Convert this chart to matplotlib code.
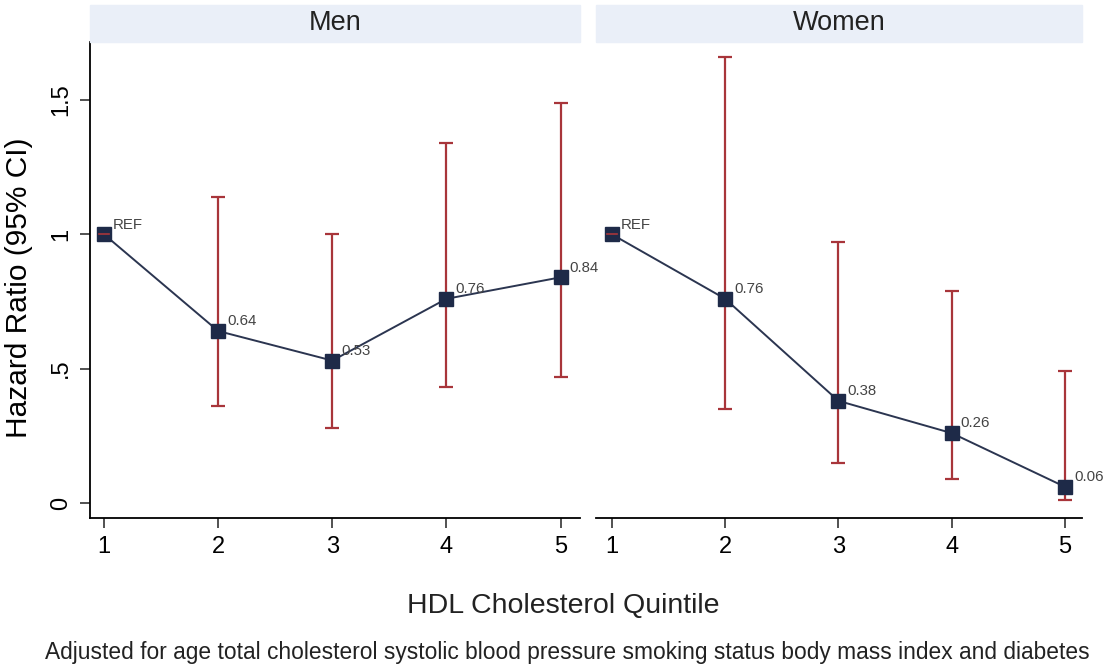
import matplotlib.pyplot as plt
from matplotlib.patches import Rectangle

plt.rcParams['font.family'] = ['Liberation Sans', 'DejaVu Sans']

quintiles = [1, 2, 3, 4, 5]
labels = ['REF', '0.64', '0.53', '0.76', '0.84']

men_hr = [1.0, 0.64, 0.53, 0.76, 0.84]
men_lo = [1.0, 0.36, 0.28, 0.43, 0.47]
men_hi = [1.0, 1.14, 1.00, 1.34, 1.49]

women_hr = [1.0, 0.76, 0.38, 0.26, 0.06]
women_lo = [1.0, 0.35, 0.15, 0.09, 0.01]
women_hi = [1.0, 1.66, 0.97, 0.79, 0.49]
women_labels = ['REF', '0.76', '0.38', '0.26', '0.06']

line_col = '#2b3550'
ci_col = '#a8353a'
band_col = '#eaeff8'

fig = plt.figure(figsize=(11.04, 6.69), dpi=100)
ax1 = fig.add_axes([90 / 1104, 1 - 518 / 669, 490 / 1104, 476 / 669])
ax2 = fig.add_axes([596 / 1104, 1 - 518 / 669, 486 / 1104, 476 / 669])


def panel(ax, hr, lo, hi, labs, title, xlim):
    yerr = [[h - l for h, l in zip(hr, lo)], [u - h for h, u in zip(hr, hi)]]
    ax.errorbar(quintiles, hr, yerr=yerr, fmt='none', ecolor=ci_col,
                elinewidth=1.6, capsize=4.7, capthick=1.6, zorder=2)
    ax.plot(quintiles, hr, color=line_col, lw=1.4, zorder=3)
    ax.plot(quintiles, hr, 's', color='#1e2a48', ms=9.5, zorder=4)
    # REF marker crossed by the zero-width interval
    ax.plot([quintiles[0] - 0.045, quintiles[0] + 0.045], [hr[0], hr[0]],
            color=ci_col, lw=1.2, zorder=5)
    for x, y, t in zip(quintiles, hr, labs):
        ax.text(x + 0.08, y + 0.01, t, fontsize=10.8, color='#444444',
                ha='left', va='bottom', zorder=6)
    ax.set_xlim(*xlim)
    ax.set_ylim(-0.056, 1.716)
    ax.set_xticks(quintiles)
    ax.tick_params(axis='x', direction='out', length=7, width=1.1,
                   labelsize=17, pad=6, color='#222222')
    for s in ['top', 'right']:
        ax.spines[s].set_visible(False)
    ax.spines['bottom'].set_linewidth(1.3)
    ax.spines['left'].set_linewidth(1.3)
    ax.patch.set_alpha(0)
    pos = ax.get_position()
    fig.patches.append(Rectangle((pos.x0, 1 - 42 / 669), pos.width, 37 / 669,
                                 transform=fig.transFigure, color=band_col,
                                 zorder=0))
    fig.text(pos.x0 + pos.width / 2, 1 - 23 / 669, title, ha='center',
             va='center', fontsize=19.5, color='#222222')


panel(ax1, men_hr, men_lo, men_hi, labels, 'Men', (0.877, 5.17))
panel(ax2, women_hr, women_lo, women_hi, women_labels, 'Women', (0.86, 5.15))

ax1.set_yticks([0, 0.5, 1, 1.5])
ax1.set_yticklabels(['0', '.5', '1', '1.5'], rotation=90, va='center')
ax1.tick_params(axis='y', direction='out', length=7, width=1.1,
                labelsize=17, pad=6, color='#222222')
ax1.set_ylabel('Hazard Ratio (95% CI)', fontsize=21.5)
ax1.yaxis.set_label_coords(-0.116, 0.483)

ax2.spines['left'].set_visible(False)
ax2.set_yticks([])

fig.text(563 / 1104, 1 - 606 / 669, 'HDL Cholesterol Quintile', ha='center',
         va='center', fontsize=20.5, color='#222222')
fig.text(567 / 1104, 1 - 652 / 669,
         'Adjusted for age total cholesterol systolic blood pressure smoking '
         'status body mass index and diabetes',
         ha='center', va='center', fontsize=16.4, color='#222222')

fig.savefig('out.png', dpi=100)
